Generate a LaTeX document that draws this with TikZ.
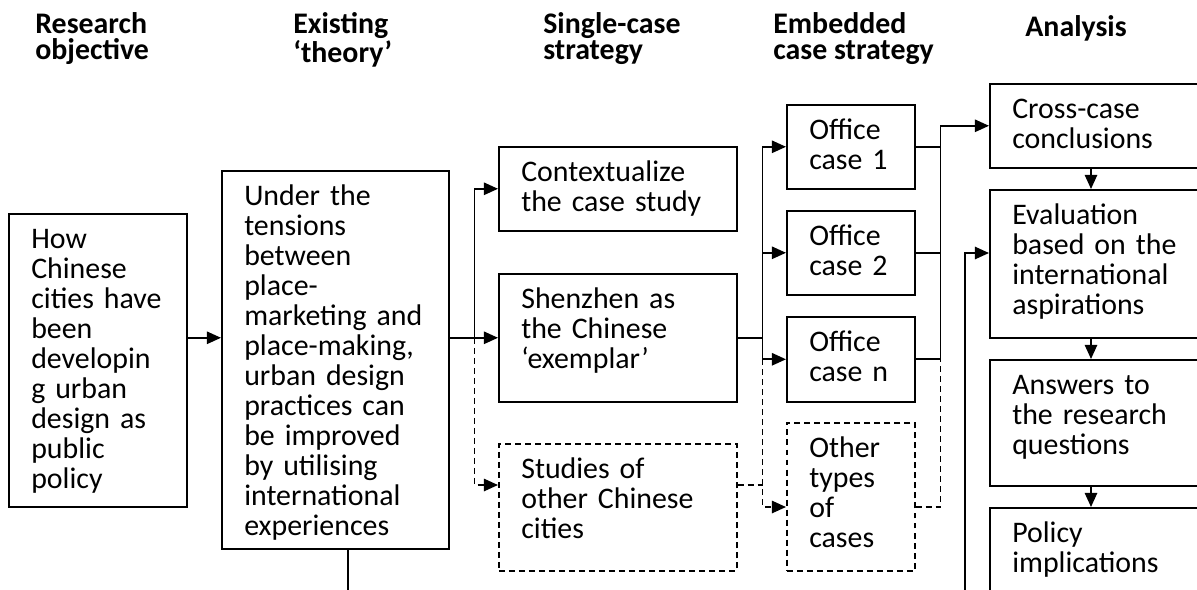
\documentclass[tikz,border=0pt]{standalone}
\usepackage{fontspec}
\setmainfont{Carlito}
\usetikzlibrary{arrows.meta, positioning, calc}

\begin{document}
\begin{tikzpicture}[x=0.02cm, y=-0.02cm,
  box/.style={draw, line width=0.9pt, anchor=north west, align=left, inner xsep=0.45cm, inner ysep=0pt, text height=0.7cm, font=\fontsize{17}{17.07}\selectfont},
  dbox/.style={box, dash pattern=on 3.4pt off 2.3pt},
  head/.style={anchor=north west, inner sep=0pt, align=left, font=\bfseries\fontsize{17}{14.8}\selectfont},
  link/.style={line width=1pt},
  dlink/.style={link, dash pattern=on 3.4pt off 2.3pt},
  arr/.style={link, -{Triangle[length=8pt,width=7pt]}},
  darr/.style={dlink, -{Triangle[length=8pt,width=7pt]}}]
\useasboundingbox (0,0) rectangle (1197,589);
\clip (0,0) rectangle (1197,589);
% column heads
\node[head] (hobj) at (35,12) {Research\\objective};
\node[head] (hth) at (293,12) {Existing\\`theory'};
\node[head] (hsc) at (543,12) {Single-case\\strategy};
\node[head] (hemb) at (773,12) {Embedded\\case strategy};
\node[head] (han) at (1025,15) {Analysis};
% boxes
\node[box, minimum width=3.56cm, text width=2.66cm, text depth=5.16cm] (obj) at (8,213) {How\\Chinese\\cities~have\\been\\developin\\g urban\\design as\\public\\policy};
\node[box, minimum width=4.54cm, text width=3.64cm, text depth=6.86cm] (theory) at (221,170) {Under the\\tensions\\between\\place-\\marketing~and\\place-making,\\urban design\\practices can\\be improved\\by utilising\\international\\experiences};
\node[box, minimum width=4.76cm, text width=3.86cm, text depth=0.98cm] (ctx) at (498,146) {Contextualize\\the case study};
\node[box, minimum width=4.76cm, text width=3.86cm, text depth=1.86cm] (shz) at (498,273) {Shenzhen as\\the Chinese\\`exemplar'};
\node[dbox, minimum width=4.76cm, text width=3.86cm, text depth=1.84cm] (std) at (498,443) {Studies of\\other Chinese\\cities};
\node[box, minimum width=2.56cm, text width=1.66cm, text depth=0.98cm] (oc1) at (786,104) {Office\\case~1};
\node[box, minimum width=2.56cm, text width=1.66cm, text depth=0.98cm] (oc2) at (786,210) {Office\\case~2};
\node[box, minimum width=2.56cm, text width=1.66cm, text depth=1.00cm] (ocn) at (786,316) {Office\\case~n};
\node[dbox, minimum width=2.56cm, text width=1.66cm, text depth=2.26cm] (oth) at (786,422) {Other\\types\\of\\cases};
\node[box, minimum width=6cm, text width=5.1cm, text depth=0.98cm] (cross) at (989,83) {Cross-case\\conclusions};
\node[box, minimum width=6cm, text width=5.1cm, text depth=2.26cm] (eval) at (989,189) {Evaluation\\based on the\\international\\aspirations};
\node[box, minimum width=6cm, text width=5.1cm, text depth=1.82cm] (ans) at (989,359) {Answers to\\the research\\questions};
\node[box, minimum width=6cm, text width=5.1cm, text depth=1.70cm] (pol) at (989,507) {Policy\\implications};
% junctions
\coordinate (jA) at ($(theory.east |- shz.west) + (25,0)$);
\coordinate (jB) at ($(shz.east) + (25,0)$);
\coordinate (jC) at ($(oc1.east) + (25,0)$);
\coordinate (stdin) at ($(std.north west) + (0,42)$);
\coordinate (stdout) at ($(std.north east) + (0,42)$);
\coordinate (othin) at ($(oth.north west) + (0,85)$);
\coordinate (othout) at ($(oth.north east) + (0,85)$);
\coordinate (evalin) at ($(eval.north west) + (0,64)$);
\coordinate (thout) at ($(theory.south west) + (127,0)$);
\coordinate (back) at (965,640);
% connectors
\draw[arr] (obj.east |- shz.west) -- (theory.west |- shz.west);
\draw[link] (theory.east |- shz.west) -- (jA);
\draw[arr] (jA) -- (shz.west);
\draw[arr] (jA) |- (ctx.west);
\draw[darr] (jA) |- (stdin);
\draw[link] (shz.east) -- (jB);
\draw[arr] (jB) |- (oc1.west);
\draw[arr] (jB |- oc2.west) -- (oc2.west);
\draw[arr] (jB) |- (ocn.west);
\draw[dlink] (stdout) -- (stdout -| jB);
\draw[darr] (jB |- ocn.west) |- (othin);
\draw[link] (oc1.east) -- (jC);
\draw[link] (oc2.east) -- (oc2.east -| jC);
\draw[arr] (ocn.east) -| (jC) |- (cross.west);
\draw[dlink] (othout) -| (ocn.east -| jC);
\foreach \a/\b in {cross/eval, eval/ans, ans/pol}
  \draw[arr] ($(\a.south west) + (102,0)$) -- ($(\b.north west) + (102,0)$);
\draw[arr] (thout) |- (back) |- (evalin);
\end{tikzpicture}
\end{document}
